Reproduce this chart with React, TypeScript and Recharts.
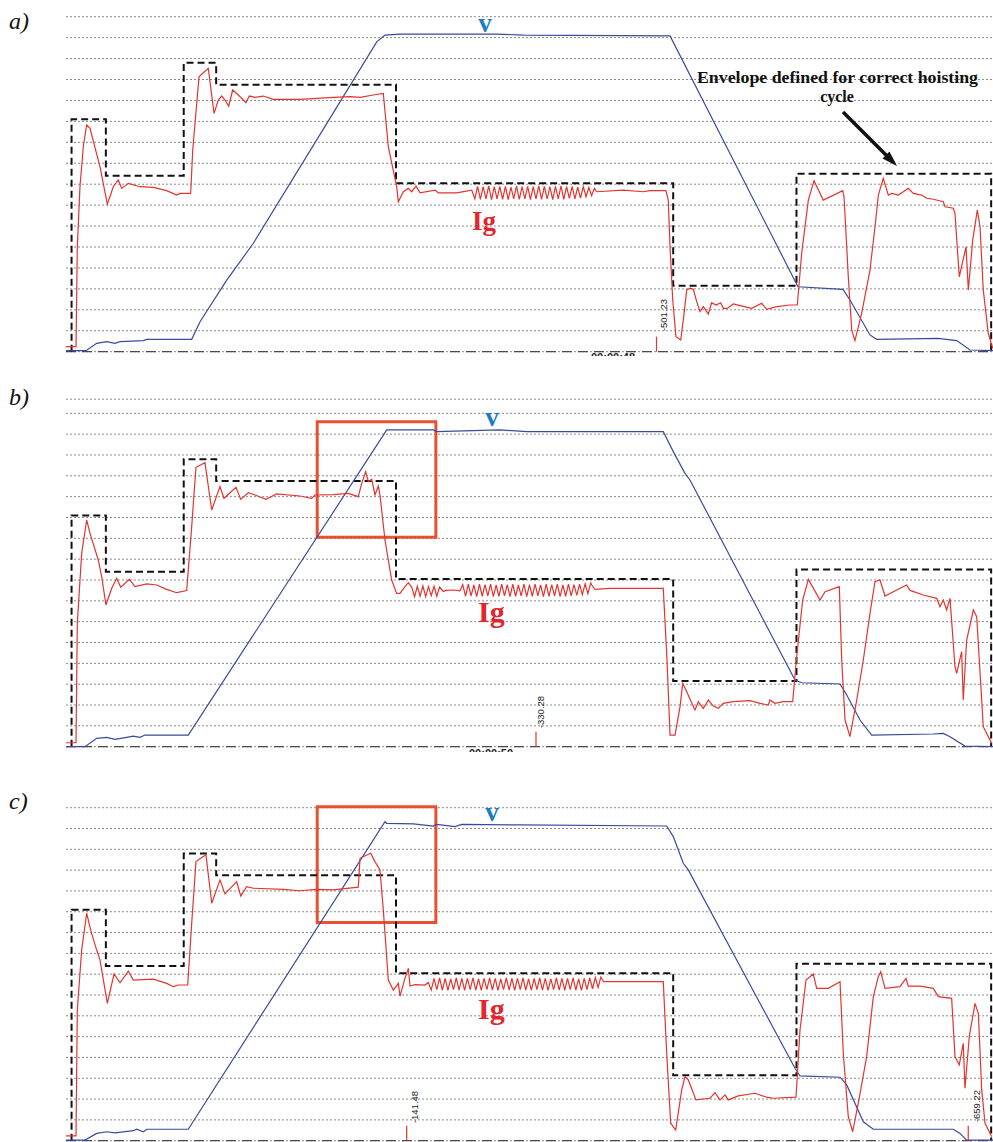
import { CartesianGrid, Line, LineChart, ReferenceArea, ReferenceLine, XAxis, YAxis } from "recharts";

type Pt = [number, number];

// time in s (0..100), level in grid divisions (0..16)
const gridLevels = [1, 2, 3, 4, 5, 6, 7, 8, 9, 10, 11, 12, 13, 14, 15, 16];

const envelope: Pt[] = [
  [0.6, 0], [0.6, 11.1], [4.3, 11.1], [4.3, 8.4], [12.7, 8.4], [12.7, 13.8], [16.2, 13.8], [16.2, 12.75],
  [35.6, 12.75], [35.6, 8.05], [65.5, 8.05], [65.5, 3.15], [78.8, 3.15], [78.8, 8.5], [99.8, 8.5], [99.8, 0],
];

const igA: Pt[] = [
  [0, 0.24], [1.08, 0.24], [1.22, 5.0], [1.51, 7.9], [1.87, 9.8], [2.23, 10.83], [2.59, 10.67], [3.67, 8.83],
  [4.46, 7.05], [5.1, 7.88], [5.64, 8.2], [6.01, 7.8], [6.72, 8.04], [7.98, 7.88], [9.42, 7.85], [10.86, 7.69],
  [11.94, 7.48], [12.3, 7.56], [13.45, 7.56], [13.67, 9.63], [14.35, 13.13], [14.81, 13.32], [15.35, 13.53],
  [15.97, 11.38], [16.43, 12.02], [16.8, 12.21], [17.15, 12.02], [17.55, 11.73], [17.98, 12.5], [18.59, 12.26],
  [19.42, 11.89], [19.77, 12.21], [20.39, 12.15], [21.28, 12.21], [22.36, 12.05], [25.24, 12.05], [27.04, 12.1],
  [28.83, 12.15], [30.64, 12.18], [31.72, 12.15], [33.15, 12.26], [34.23, 12.34], [34.77, 9.79], [35.67, 7.88],
  [35.85, 7.16], [36.39, 7.64], [36.93, 7.8], [37.29, 7.64], [37.76, 7.91], [38.19, 7.59], [39.81, 7.72],
  [40.16, 7.59], [42.15, 7.59], [43.77, 7.72],
  [44.1, 7.3], [44.4, 7.9], [44.7, 7.28], [45.0, 7.88], [45.3, 7.3], [45.6, 7.92], [45.9, 7.26], [46.2, 7.88],
  [46.5, 7.3], [46.8, 7.9], [47.1, 7.28], [47.4, 7.9], [47.7, 7.26], [48.0, 7.86], [48.3, 7.3], [48.6, 7.92],
  [48.9, 7.28], [49.2, 7.88], [49.5, 7.3], [49.8, 7.9], [50.1, 7.26], [50.4, 7.88], [50.7, 7.3], [51.0, 7.92],
  [51.3, 7.28], [51.6, 7.9], [51.9, 7.3], [52.2, 7.88], [52.5, 7.26], [52.8, 7.9], [53.1, 7.3], [53.4, 7.92],
  [53.7, 7.28], [54.0, 7.88], [54.3, 7.32], [54.6, 7.9], [54.9, 7.3], [55.2, 7.86], [55.5, 7.34], [55.8, 7.88],
  [56.1, 7.4], [56.4, 7.84], [56.7, 7.45], [57.0, 7.8],
  [57.25, 7.64], [60.12, 7.72], [62.28, 7.64], [63.0, 7.69], [64.72, 7.69], [64.97, 7.24], [65.16, 5.01],
  [65.45, 2.47], [65.8, 0.72], [66.31, 0.56], [66.59, 1.51], [66.96, 2.95], [67.31, 3.03], [67.67, 2.98],
  [68.04, 2.39], [68.39, 1.91], [68.75, 2.15], [69.29, 1.8], [69.65, 2.34], [70.12, 2.23], [70.63, 2.34],
  [70.91, 2.07], [71.34, 2.07], [71.98, 2.28], [72.71, 2.2], [73.97, 2.07], [75.05, 2.31], [75.59, 2.02],
  [76.67, 2.15], [78.1, 2.23], [78.89, 2.23], [79.36, 4.7], [80.08, 7.24], [80.69, 8.17], [81.69, 7.24],
  [83.79, 7.69], [83.93, 7.4], [84.39, 3.58], [84.76, 1.04], [85.11, 0.53], [85.83, 1.83], [86.73, 3.9],
  [87.27, 5.97], [87.63, 7.48], [88.16, 8.28], [88.71, 7.48], [89.07, 7.56], [89.79, 7.48], [90.32, 7.64],
  [90.86, 7.8], [91.4, 7.56], [92.31, 7.48], [92.85, 7.33], [93.56, 7.28], [94.64, 7.16], [94.82, 6.92],
  [95.72, 6.85], [95.9, 6.61], [96.36, 3.58], [97.09, 5.01], [97.34, 2.95], [97.81, 5.33], [98.31, 6.77],
  [98.6, 5.97], [98.95, 2.95], [99.49, 0.88], [99.97, 0.16],
];

const speedA: Pt[] = [
  [0, 0.05], [2.16, 0.05], [3.31, 0.4], [4.39, 0.48], [5.29, 0.4], [5.83, 0.48], [8.34, 0.53], [8.71, 0.59],
  [13.56, 0.59], [14.46, 1.43], [17.34, 3.42], [20.21, 5.18], [28.8, 11.38], [33.52, 14.8], [34.41, 15.12],
  [36.03, 15.17], [46.46, 15.17], [49.33, 15.12], [65.16, 15.08], [78.96, 3.1], [83.82, 2.98], [84.57, 2.47],
  [86.73, 0.8], [87.45, 0.59], [94.07, 0.64], [96.08, 0.53], [97.52, 0.08], [100, 0.05],
];

const igB: Pt[] = [
  [0, 0.19], [1.08, 0.19], [1.22, 5.92], [1.69, 9.28], [2.23, 10.88], [2.59, 10.24], [3.48, 8.96], [3.85, 8.16],
  [4.31, 6.8], [4.93, 7.6], [5.47, 8.08], [5.9, 7.65], [6.83, 8.03], [7.44, 7.68], [8.71, 7.81], [9.78, 7.76],
  [10.86, 7.55], [11.94, 7.39], [13.02, 7.49], [13.56, 10.56], [14.02, 13.41], [14.99, 13.63], [15.72, 11.36],
  [16.61, 12.48], [17.04, 11.92], [18.34, 12.45], [18.85, 11.87], [19.67, 12.19], [20.39, 12.08], [21.57, 11.87],
  [22.73, 12.13], [25.24, 12.03], [26.5, 11.92], [26.86, 12.08], [28.83, 12.1], [30.45, 12.16], [31.53, 12.0],
  [31.9, 12.64], [32.33, 13.2], [32.61, 12.72], [32.98, 12.83], [33.33, 12.08], [33.69, 12.51], [33.87, 12.08],
  [34.41, 9.92], [35.13, 8.0], [35.67, 7.36], [36.03, 7.36], [36.57, 7.68], [36.93, 7.87],
  [37.3, 7.65], [37.6, 7.2], [37.9, 7.7], [38.2, 7.22], [38.5, 7.72], [38.8, 7.2], [39.1, 7.68], [39.4, 7.25],
  [39.7, 7.7], [40.0, 7.22], [40.3, 7.66], [40.7, 7.45], [41.0, 7.5], [41.8, 7.52], [42.5, 7.48],
  [42.8, 7.78], [43.1, 7.22], [43.4, 7.8], [43.7, 7.24], [44.0, 7.76], [44.3, 7.2], [44.6, 7.8], [44.9, 7.22],
  [45.2, 7.78], [45.5, 7.24], [45.8, 7.8], [46.1, 7.2], [46.4, 7.76], [46.7, 7.22], [47.0, 7.8], [47.3, 7.24],
  [47.6, 7.78], [47.9, 7.2], [48.2, 7.8], [48.5, 7.22], [48.8, 7.76], [49.1, 7.24], [49.4, 7.8], [49.7, 7.2],
  [50.0, 7.78], [50.3, 7.22], [50.6, 7.8], [50.9, 7.24], [51.2, 7.76], [51.5, 7.2], [51.8, 7.8], [52.1, 7.22],
  [52.4, 7.78], [52.7, 7.24], [53.0, 7.8], [53.3, 7.2], [53.6, 7.76], [53.9, 7.22], [54.2, 7.8], [54.5, 7.24],
  [54.8, 7.78], [55.1, 7.26], [55.4, 7.8], [55.7, 7.3], [56.0, 7.82], [56.3, 7.34], [56.6, 7.86], [56.71, 7.76],
  [57.07, 7.55], [58.68, 7.6], [64.43, 7.6], [64.8, 4.48], [65.16, 0.56], [65.7, 0.56], [66.24, 1.92],
  [66.53, 3.04], [66.96, 2.64], [67.85, 1.76], [68.21, 2.16], [68.75, 1.84], [69.29, 2.24], [69.83, 1.95],
  [70.37, 1.84], [70.9, 2.08], [71.98, 2.16], [73.79, 2.21], [74.87, 2.08], [75.76, 2.0], [75.94, 2.24],
  [76.48, 2.08], [77.38, 2.16], [78.39, 2.16], [78.82, 4.32], [79.47, 7.04], [80.08, 8.03], [81.34, 7.04],
  [81.88, 7.44], [83.42, 7.68], [83.68, 4.16], [84.04, 1.28], [84.57, 0.48], [85.3, 2.24], [86.01, 4.16],
  [86.73, 6.4], [87.27, 7.92], [87.81, 8.0], [88.35, 7.23], [89.61, 7.52], [90.69, 7.76], [91.05, 7.5],
  [92.48, 7.28], [93.93, 7.12], [94.28, 6.72], [94.64, 7.04], [95.0, 6.56], [95.36, 7.12], [95.9, 3.84],
  [96.08, 3.52], [96.62, 4.56], [96.79, 2.24], [97.16, 5.12], [97.88, 6.56], [98.24, 6.24], [98.78, 2.24],
  [98.95, 0.96], [99.86, 0.16],
];

const speedB: Pt[] = [
  [0, 0], [2.05, 0], [3.31, 0.4], [4.39, 0.45], [5.29, 0.35], [6.55, 0.45], [7.26, 0.51], [7.98, 0.45],
  [8.52, 0.56], [13.19, 0.56], [34.6, 15.2], [39.62, 15.2], [39.99, 15.12], [46.82, 15.2], [49.7, 15.12],
  [64.43, 15.12], [65.51, 14.16], [66.77, 13.12], [67.31, 12.8], [78.64, 3.2], [79.36, 3.07], [83.5, 3.01],
  [84.22, 2.48], [85.65, 1.28], [86.91, 0.56], [93.56, 0.61], [94.64, 0.64], [95.36, 0.48], [96.98, 0.03],
  [100, 0],
];

const igC: Pt[] = [
  [0, 0.23], [1.08, 0.23], [1.22, 6.28], [1.69, 9.16], [2.23, 10.93], [2.66, 10.12], [3.31, 9.16], [3.67, 8.68],
  [4.46, 6.6], [5.18, 8.01], [5.83, 7.59], [6.72, 8.15], [7.26, 7.72], [9.42, 7.76], [10.86, 7.56], [11.58, 7.4],
  [12.11, 7.48], [13.13, 7.48], [13.56, 10.45], [14.02, 13.41], [14.81, 13.65], [15.1, 13.73], [15.72, 11.41],
  [16.61, 12.53], [17.15, 11.86], [18.41, 12.45], [18.85, 11.76], [19.49, 12.21], [20.21, 12.13], [23.44, 12.08],
  [25.24, 12.01], [27.04, 12.08], [28.83, 12.05], [31.53, 12.18], [31.72, 13.57], [32.44, 13.73], [32.87, 13.81],
  [33.33, 13.41], [33.87, 13.01], [34.23, 11.09], [34.77, 7.72], [35.31, 7.24], [35.85, 7.56], [36.03, 6.95],
  [36.57, 7.8], [36.93, 8.28], [37.11, 7.43], [37.65, 7.5], [38.73, 7.48], [39.08, 7.6],
  [39.4, 7.24], [39.7, 7.8], [40.0, 7.26], [40.3, 7.82], [40.6, 7.24], [40.9, 7.8], [41.2, 7.22], [41.5, 7.78],
  [41.8, 7.26], [42.1, 7.82], [42.4, 7.24], [42.7, 7.8], [43.0, 7.22], [43.3, 7.8], [43.6, 7.26], [43.9, 7.82],
  [44.2, 7.24], [44.5, 7.78], [44.8, 7.22], [45.1, 7.8], [45.4, 7.26], [45.7, 7.82], [46.0, 7.24], [46.3, 7.8],
  [46.6, 7.22], [46.9, 7.78], [47.2, 7.26], [47.5, 7.82], [47.8, 7.24], [48.1, 7.8], [48.4, 7.22], [48.7, 7.8],
  [49.0, 7.26], [49.3, 7.82], [49.6, 7.24], [49.9, 7.78], [50.2, 7.22], [50.5, 7.8], [50.8, 7.26], [51.1, 7.82],
  [51.4, 7.24], [51.7, 7.8], [52.0, 7.22], [52.3, 7.78], [52.6, 7.26], [52.9, 7.82], [53.2, 7.24], [53.5, 7.8],
  [53.8, 7.22], [54.1, 7.8], [54.4, 7.26], [54.7, 7.82], [55.0, 7.24], [55.3, 7.78], [55.6, 7.22], [55.9, 7.8],
  [56.2, 7.26], [56.5, 7.82], [56.8, 7.3], [57.1, 7.84], [57.4, 7.36], [57.7, 7.86], [58.0, 7.64],
  [58.68, 7.64], [64.43, 7.64], [64.8, 4.2], [65.23, 0.84], [65.77, 0.51], [66.42, 2.44], [66.77, 3.08],
  [67.13, 2.92], [67.96, 1.96], [69.47, 2.04], [70.01, 2.31], [70.55, 1.96], [71.09, 2.2], [71.45, 1.96],
  [72.52, 2.15], [74.33, 2.28], [75.59, 2.09], [76.3, 2.04], [78.75, 2.09], [79.18, 5.32], [79.83, 7.72],
  [80.61, 8.01], [80.98, 7.32], [82.23, 7.32], [83.5, 7.64], [83.85, 4.2], [84.39, 1.15], [84.86, 0.43],
  [85.47, 1.8], [86.37, 4.04], [87.09, 6.92], [87.63, 7.88], [87.89, 8.12], [88.35, 7.32], [89.97, 7.4],
  [90.61, 7.8], [90.86, 7.43], [92.13, 7.43], [93.56, 7.32], [94.1, 6.92], [95.54, 6.84], [95.9, 4.04],
  [96.36, 3.64], [96.79, 4.68], [96.98, 2.52], [97.44, 5.0], [98.06, 6.6], [98.42, 6.12], [98.78, 2.44],
  [99.14, 0.84], [99.86, 0.19],
];

const speedC: Pt[] = [
  [0, 0.03], [2.05, 0.03], [3.31, 0.35], [4.39, 0.43], [5.29, 0.38], [7.26, 0.48], [7.63, 0.55], [8.34, 0.43],
  [8.71, 0.55], [13.19, 0.55], [34.41, 15.33], [34.6, 15.25], [37.47, 15.22], [39.62, 15.12], [39.99, 15.2],
  [41.96, 15.09], [42.69, 15.2], [48.98, 15.17], [64.8, 15.12], [65.51, 14.61], [66.59, 13.33], [67.13, 13.01],
  [78.64, 3.48], [79.18, 3.11], [83.5, 3.05], [84.22, 2.68], [86.01, 0.91], [87.09, 0.55], [95.72, 0.55],
  [96.44, 0.35], [97.16, 0.03], [100, 0.03],
];

// cursor marks (time) and the highlighted window [t1, t2, level1, level2]
const cursorsA = [63.7];
const cursorsB = [50.7];
const cursorsC = [36.75, 97.33];
const boxB = [27.1, 39.9, 10.05, 15.6];
const boxC = [27.1, 39.9, 10.48, 16.05];

const RED = "#e3342f";
const BLUE = "#3a4a9c";
const GRID = "#8a8a8a";
const SERIF = "'Liberation Serif', 'Times New Roman', serif";

const rows = (pts: Pt[]) => pts.map(([t, v]) => ({ t, v }));

type PanelProps = {
  top: number;
  height: number;
  mt: number;
  mb: number;
  ig: Pt[];
  speed: Pt[];
  cursors: number[];
  box?: number[];
  topLine?: boolean;
};

function Panel({ top, height, mt, mb, ig, speed, cursors, box, topLine }: PanelProps) {
  return (
    <div style={{ position: "absolute", left: 0, top }}>
      <LineChart width={993} height={height} margin={{ top: mt, right: 0, bottom: mb, left: 66 }}>
        <XAxis type="number" dataKey="t" domain={[0, 100]} hide />
        <YAxis type="number" domain={[0, 16]} ticks={gridLevels} interval={0} hide />
        <CartesianGrid vertical={false} stroke={GRID} strokeDasharray="2 2" />
        {topLine && <ReferenceLine y={16.68} stroke={GRID} strokeDasharray="2 2" ifOverflow="visible" />}
        <ReferenceLine y={0} stroke="#4a4a4a" strokeDasharray="10 6" strokeWidth={1.3} />
        <Line data={rows(envelope)} dataKey="v" type="linear" stroke="#111" strokeWidth={2} strokeDasharray="7 4" dot={false} isAnimationActive={false} />
        <Line data={rows(speed)} dataKey="v" type="linear" stroke={BLUE} strokeWidth={1.2} dot={false} isAnimationActive={false} />
        <Line data={rows(ig)} dataKey="v" type="linear" stroke={RED} strokeWidth={1.2} dot={false} isAnimationActive={false} />
        {cursors.map((t) => (
          <ReferenceLine key={t} segment={[{ x: t, y: 0 }, { x: t, y: 0.72 }]} stroke={RED} strokeWidth={1.2} />
        ))}
        {box && (
          <ReferenceArea x1={box[0]} x2={box[1]} y1={box[2]} y2={box[3]} fill="none" stroke="#e9502f" strokeWidth={3} ifOverflow="visible" />
        )}
      </LineChart>
    </div>
  );
}

function CutLabel({ left, top, text }: { left: number; top: number; text: string }) {
  return (
    <div style={{ position: "absolute", left, top, width: 48, height: 4, overflow: "hidden" }}>
      <div style={{ font: "bold 11px Arial, 'Liberation Sans', sans-serif", lineHeight: "11px", color: "#222" }}>{text}</div>
    </div>
  );
}

export default function App() {
  return (
    <div style={{ position: "absolute", left: 0, top: 0, width: 993, height: 1142, background: "#fff", overflow: "hidden" }}>
      <Panel top={0} height={360} mt={16.7} mb={8.3} ig={igA} speed={speedA} cursors={cursorsA} />
      <Panel top={380} height={372} mt={33.3} mb={5.3} ig={igB} speed={speedB} cursors={cursorsB} box={boxB} topLine />
      <Panel top={770} height={372} mt={37.7} mb={1.3} ig={igC} speed={speedC} cursors={cursorsC} box={boxC} />
      <CutLabel left={591} top={352} text="00:00:48" />
      <CutLabel left={469} top={748} text="00:00:50" />
      <svg width={993} height={1142} style={{ position: "absolute", left: 0, top: 0, pointerEvents: "none" }}>
        <g fontFamily={SERIF} fontStyle="italic" fontSize={24} fill="#111">
          <text x={9} y={29}>a)</text>
          <text x={9} y={405}>b)</text>
          <text x={9} y={809}>c)</text>
        </g>
        <g fontFamily={SERIF} fontWeight="bold" fontSize={27} fill="#1f7cc4" textAnchor="middle">
          <text x={485} y={32}>v</text>
          <text x={492} y={426}>v</text>
          <text x={492} y={821}>v</text>
        </g>
        <g fontFamily={SERIF} fontWeight="bold" fill="#e2262b">
          <text x={472} y={230} fontSize={27}>Ig</text>
          <text x={478} y={622} fontSize={30}>Ig</text>
          <text x={478} y={1019} fontSize={30}>Ig</text>
        </g>
        <g fontFamily={SERIF} fontWeight="bold" fontSize={16} fill="#111" textAnchor="middle">
          <text x={837.5} y={83} textLength={281} lengthAdjust="spacingAndGlyphs">Envelope defined for correct hoisting</text>
          <text x={837} y={102}>cycle</text>
        </g>
        <line x1={843} y1={112} x2={889} y2={158} stroke="#111" strokeWidth={3.5} />
        <polygon points="897,166 882.5,158.5 889.5,151.5" fill="#111" />
        <g fontFamily="Arial, 'Liberation Sans', sans-serif" fontSize={9.5} fill="#222" textAnchor="middle" dominantBaseline="central">
          <text transform="translate(663,315) rotate(-90)">-501.23</text>
          <text transform="translate(540,712) rotate(-90)">-330.28</text>
          <text transform="translate(414,1107) rotate(-90)">-141.48</text>
          <text transform="translate(976,1106) rotate(-90)">-659.22</text>
        </g>
      </svg>
    </div>
  );
}
